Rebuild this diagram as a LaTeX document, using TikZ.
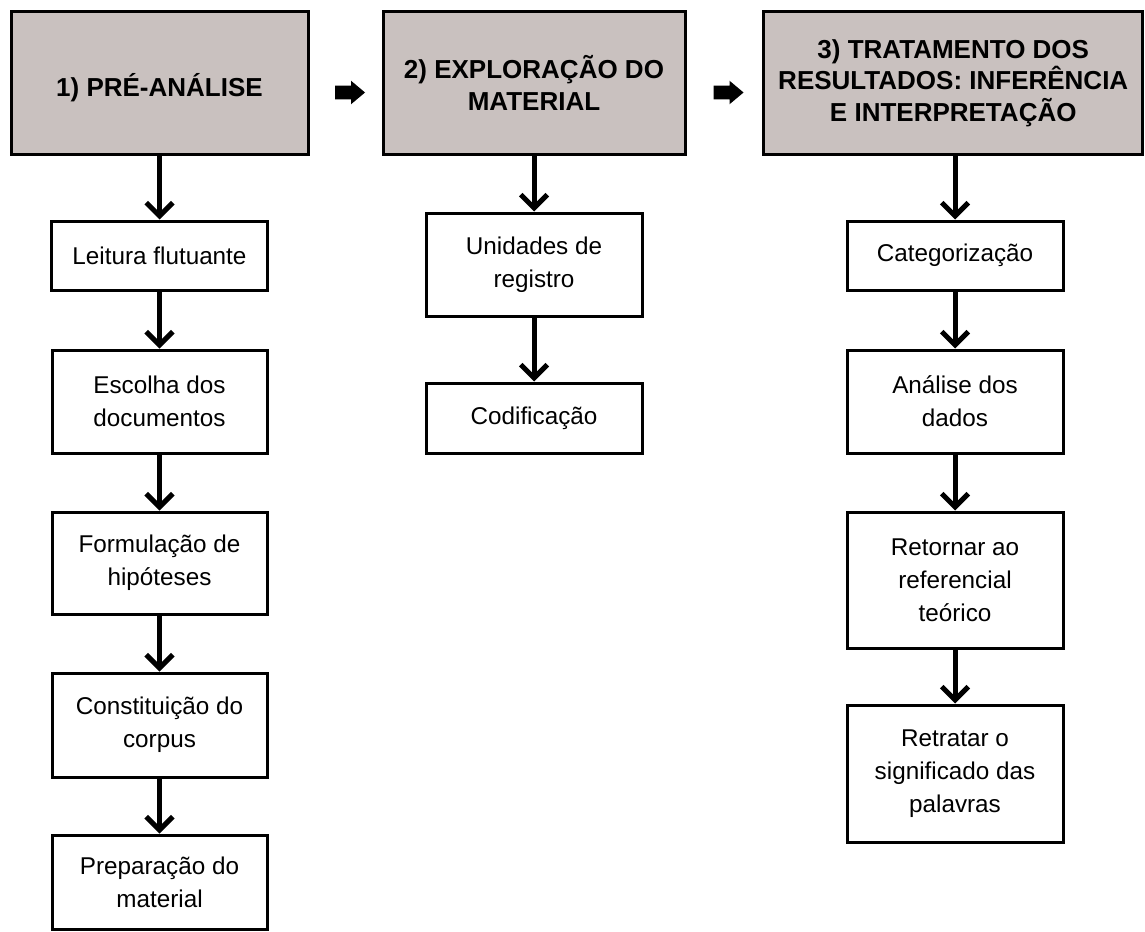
\documentclass[tikz,border=0pt]{standalone}
\usepackage{fontspec}
\setmainfont{Liberation Sans}
\usetikzlibrary{arrows.meta,shapes.arrows}
\definecolor{headgray}{RGB}{201,193,191}
\begin{document}
\begin{tikzpicture}[x=0.75pt,y=-0.75pt,
  head/.style={draw=black,line width=2.25pt,fill=headgray,minimum height=106.5pt,
    inner sep=2pt,align=center,font=\fontsize{19.5}{23.5}\selectfont\bfseries},
  stepbox/.style={draw=black,line width=2.25pt,fill=white,inner sep=2pt,align=center,
    font=\fontsize{18.2}{24.8}\selectfont},
  flow/.style={line width=3.75pt,-{Straight Barb[length=10pt,width=20pt]}},
  blockarrow/.style={single arrow,fill=black,draw=none,minimum height=22.5pt,
    single arrow head extend=3.75pt,single arrow tip angle=80,
    inner xsep=0pt,inner ysep=4.875pt,text height=0pt,text depth=0pt,text width=0pt}]
\useasboundingbox (0,0) rectangle (1145,931);
% headers
\node[head,minimum width=222.75pt,text height=20pt,text depth=0pt] (h1) at (159.5,83) {1) PRÉ-ANÁLISE};
\node[head,minimum width=226.5pt] (h2) at (534,83) {2) EXPLORAÇÃO DO\\MATERIAL};
\node[head,minimum width=283.9pt] (h3) at (953.25,83) {3) TRATAMENTO DOS\\RESULTADOS: INFERÊNCIA\\E INTERPRETAÇÃO};
\node[blockarrow] (a1) at (346,92.5) {};
\node[blockarrow] (a2) at (724.5,92.5) {};
% column 1
\node[stepbox,minimum width=162pt,minimum height=51.75pt] (b1) at (159.5,255.5) {Leitura flutuante};
\node[stepbox,minimum width=161.25pt,minimum height=77.25pt] (b2) at (159.5,401.5) {Escolha dos\\documentos};
\node[stepbox,minimum width=161.25pt,minimum height=76.5pt] (b3) at (159.5,563) {Formulação de\\hipóteses};
\node[stepbox,minimum width=161.25pt,minimum height=78pt] (b4) at (159.5,725) {Constituição do\\corpus};
\node[stepbox,minimum width=161.25pt,minimum height=70.5pt] (b5) at (159.5,882) {Preparação do\\material};
% column 2
\node[stepbox,minimum width=162pt,minimum height=77.25pt] (c1) at (534,264.5) {Unidades de\\registro};
\node[stepbox,minimum width=162pt,minimum height=52.5pt] (c2) at (534,418) {Codificação};
% column 3
\node[stepbox,minimum width=162pt,minimum height=51.75pt] (d1) at (955,255.5) {Categorização};
\node[stepbox,minimum width=162pt,minimum height=77.25pt] (d2) at (955,401.5) {Análise dos\\dados};
\node[stepbox,minimum width=162pt,minimum height=102pt] (d3) at (955,580) {Retornar ao\\referencial\\teórico};
\node[stepbox,minimum width=162pt,minimum height=102.75pt] (d4) at (955,773.5) {Retratar o\\significado das\\palavras};
% connectors
\draw[flow] (h1.south) -- (b1.north);
\draw[flow] (b1) -- (b2);
\draw[flow] (b2) -- (b3);
\draw[flow] (b3) -- (b4);
\draw[flow] (b4) -- (b5);
\draw[flow] (h2.south) -- (c1.north);
\draw[flow] (c1) -- (c2);
\draw[flow] (h3.south -| d1.north) -- (d1.north);
\draw[flow] (d1) -- (d2);
\draw[flow] (d2) -- (d3);
\draw[flow] (d3) -- (d4);
\end{tikzpicture}
\end{document}
